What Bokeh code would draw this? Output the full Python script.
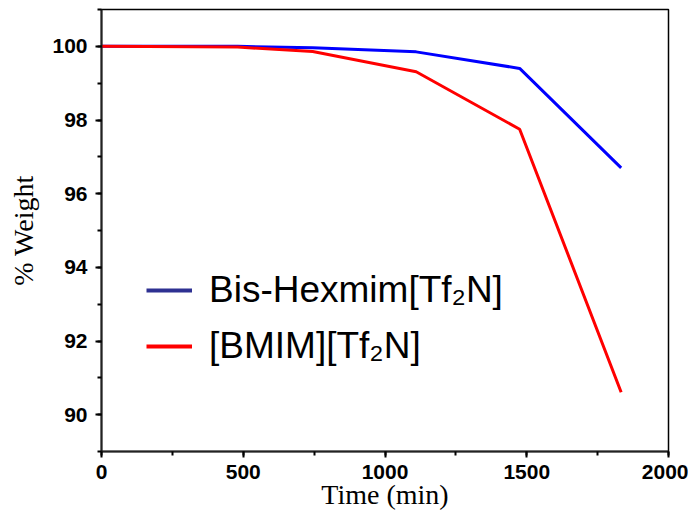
from bokeh.plotting import figure
from bokeh.models import FixedTicker, Legend, LegendItem, Range1d
from bokeh.embed import file_html
from bokeh.resources import INLINE

# Data
time_bis = [0, 480, 745, 1110, 1475, 1833]
weight_bis = [100.0, 100.0, 99.96, 99.85, 99.40, 96.70]
time_bmim = [0, 480, 745, 1110, 1475, 1833]
weight_bmim = [100.0, 99.98, 99.86, 99.31, 97.75, 90.61]
series_names = ["Bis-Hexmim[Tf\u2082N]", "[BMIM][Tf\u2082N]"]
x_ticks = [0, 500, 1000, 1500, 2000]
x_minor = [250 * i for i in range(9)]
y_ticks = [90, 92, 94, 96, 98, 100]
y_minor = list(range(89, 102))

nan = float("nan")

p = figure(width=688, height=512, output_backend="svg", toolbar_location=None,
           x_range=Range1d(0, 2000), y_range=Range1d(89, 101),
           min_border_left=101, min_border_right=20, min_border_top=9, min_border_bottom=55)
p.grid.visible = False
p.background_fill_color = "white"
p.border_fill_color = "white"
p.outline_line_color = "black"
p.outline_line_width = 1.5

r1 = p.line(time_bis, weight_bis, line_color="#0000FF", line_width=3)
r2 = p.line(time_bmim, weight_bmim, line_color="#FF0000", line_width=3)
# legend swatches
l1 = p.line(x=[nan, nan], y=[nan, nan], line_color="#2E3192", line_width=4)
l2 = p.line(x=[nan, nan], y=[nan, nan], line_color="#FF0000", line_width=4)

for ax in (p.xaxis[0], p.yaxis[0]):
    ax.axis_line_width = 2
    ax.axis_line_color = "#222222"
    ax.major_tick_line_width = 2
    ax.minor_tick_line_width = 2
    ax.major_tick_out = 6
    ax.major_tick_in = 0
    ax.minor_tick_out = 4
    ax.minor_tick_in = 0
    ax.major_label_text_font = "Liberation Sans"
    ax.major_label_text_font_style = "bold"
    ax.major_label_text_font_size = "21px"
    ax.major_label_text_color = "black"
    ax.axis_label_text_font = "Liberation Serif"
    ax.axis_label_text_font_style = "normal"
    ax.axis_label_text_color = "black"

p.xaxis[0].ticker = FixedTicker(ticks=x_ticks, minor_ticks=x_minor)
p.yaxis[0].ticker = FixedTicker(ticks=y_ticks, minor_ticks=y_minor)
p.xaxis[0].axis_label = "Time (min)"
p.yaxis[0].axis_label = "% Weight"
p.xaxis[0].axis_label_text_font_size = "28px"
p.yaxis[0].axis_label_text_font_size = "28px"
p.xaxis[0].major_label_standoff = 7
p.yaxis[0].major_label_standoff = 8
p.xaxis[0].axis_label_standoff = -3
p.yaxis[0].axis_label_standoff = 10

legend = Legend(items=[LegendItem(label=series_names[0], renderers=[l1]),
                       LegendItem(label=series_names[1], renderers=[l2])],
                location=(45, 84), padding=0, margin=0, spacing=14,
                glyph_width=46, glyph_height=40, label_height=40, label_standoff=17,
                label_text_font="Liberation Sans", label_text_font_size="37px",
                label_text_color="black", border_line_color=None,
                background_fill_alpha=0)
p.add_layout(legend, "center")

open("out.html", "w").write(file_html(p, INLINE))
